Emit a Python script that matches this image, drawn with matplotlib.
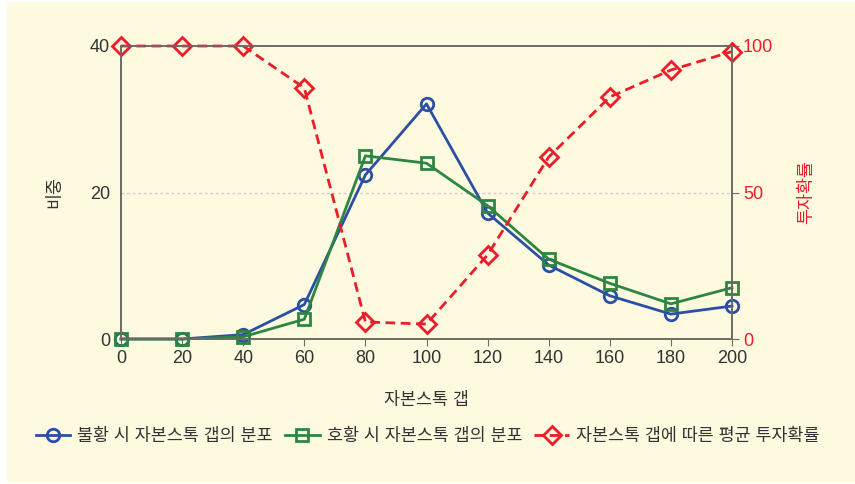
import matplotlib.pyplot as plt
from matplotlib.patches import Rectangle

plt.rcParams['font.family'] = ['Liberation Sans', 'Noto Sans CJK KR', 'DejaVu Sans']

# capital stock gap buckets
gap = [0, 20, 40, 60, 80, 100, 120, 140, 160, 180, 200]
# share of firms (%) by gap, recession vs expansion
recession = [0, 0, 0.6, 4.7, 22.4, 32.1, 17.2, 10.1, 5.9, 3.4, 4.5]
expansion = [0, 0, 0.3, 2.7, 25.0, 24.0, 18.2, 10.9, 7.6, 4.8, 7.0]
# average investment probability (%) by gap
invest_prob = [100, 100, 100, 85.7, 5.8, 5.1, 28.7, 62.1, 82.6, 91.8, 98.1]

bg = '#fefadf'
blue = '#2a4fa5'
green = '#2e8543'
red = '#ec1c2a'
spine = '#6b6b66'
txt = '#333333'

fig = plt.figure(figsize=(8.55, 4.84), dpi=100)
fig.patch.set_facecolor('white')
fig.patches.append(Rectangle((7 / 855, 2 / 484), 848 / 855, 480 / 484,
                             transform=fig.transFigure, facecolor=bg,
                             edgecolor='none', zorder=-10))

ax = fig.add_axes([121 / 855, 1 - 339 / 484, 611 / 855, 293 / 484])
ax.set_facecolor(bg)
ax2 = ax.twinx()

l1, = ax.plot(gap, recession, color=blue, lw=2, marker='o', ms=9,
              mfc='none', mew=2, label='불황 시 자본스톡 갭의 분포', clip_on=False, zorder=3)
l2, = ax.plot(gap, expansion, color=green, lw=2, marker='s', ms=9,
              mfc='none', mew=2, label='호황 시 자본스톡 갭의 분포', clip_on=False, zorder=3)
l3, = ax2.plot(gap, invest_prob, color=red, lw=2, ls=(0, (3.5, 2)), marker='D', ms=9,
               mfc='none', mew=2, label='자본스톡 갭에 따른 평균 투자확률', clip_on=False)

ax.set_xlim(0, 200)
ax.set_ylim(0, 40)
ax2.set_ylim(0, 100)
ax.set_xticks(gap)
ax.set_yticks([0, 20, 40])
ax2.set_yticks([0, 50, 100])
ax.axhline(20, color='#cfcfcf', lw=1, ls=(0, (2, 2)), zorder=0)

for a in (ax, ax2):
    for s in a.spines.values():
        s.set_color(spine)
        s.set_linewidth(1.2)
ax.tick_params(axis='x', direction='out', length=5, color=spine, labelsize=13,
               labelcolor=txt, pad=3)
ax.tick_params(axis='y', direction='out', length=0, labelsize=13, labelcolor=txt, pad=8)
ax2.tick_params(axis='y', direction='out', length=5, color=spine, labelsize=13,
                labelcolor=red, pad=3)

ax.set_xlabel('자본스톡 갭', fontsize=12.5, color=txt, labelpad=18)
ax.set_ylabel('비중', fontsize=12.5, color=txt, labelpad=20)
ax2.set_ylabel('투자확률', fontsize=12.5, color=red, labelpad=18)

fig.legend(handles=[l1, l2, l3], loc='center', bbox_to_anchor=(0.5, 1 - 436 / 484),
           ncol=3, frameon=False, fontsize=12.5, handlelength=2.0, handletextpad=0.4,
           columnspacing=0.7, labelcolor=txt)

plt.savefig('out.png', dpi=100, facecolor=fig.get_facecolor())
